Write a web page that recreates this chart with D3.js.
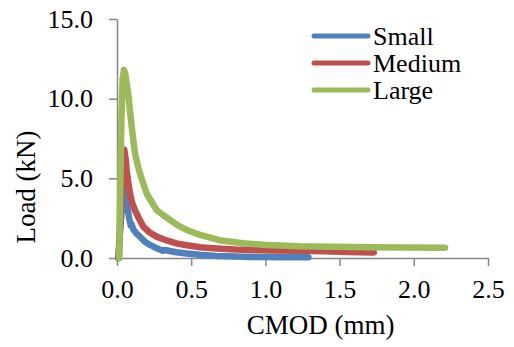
<!DOCTYPE html>
<html>
<head>
<meta charset="utf-8">
<script src="https://cdn.jsdelivr.net/npm/d3@7"></script>
<style>
  body { margin: 0; background: #fff; }
</style>
</head>
<body>
<div id="chart"></div>
<script>
// CMOD (mm) / Load (kN)
const seriesNames = ["Small", "Medium", "Large"];
const seriesColors = ["#4F81BD", "#C0504D", "#9BBB59"];

const smallX = [0.008, 0.02, 0.035, 0.047, 0.055, 0.065, 0.08, 0.092, 0.099, 0.11, 0.13, 0.155, 0.19, 0.222, 0.27, 0.31, 0.32, 0.4, 0.47, 0.56, 0.67, 0.8, 0.9, 1.0, 1.1, 1.2, 1.29];
const smallY = [0.0, 1.6, 3.4, 4.48, 4.0, 3.43, 2.6, 2.05, 2.1, 1.8, 1.55, 1.34, 1.0, 0.82, 0.6, 0.45, 0.5, 0.36, 0.28, 0.2, 0.13, 0.09, 0.07, 0.06, 0.05, 0.05, 0.05];

const mediumX = [0.012, 0.025, 0.038, 0.049, 0.057, 0.065, 0.075, 0.088, 0.1, 0.121, 0.15, 0.177, 0.22, 0.267, 0.335, 0.4, 0.47, 0.56, 0.67, 0.8, 0.9, 1.05, 1.23, 1.4, 1.55, 1.73];
const mediumY = [0.0, 2.8, 5.5, 6.8, 6.3, 5.5, 4.8, 4.05, 3.5, 3.0, 2.45, 1.97, 1.6, 1.34, 1.1, 0.92, 0.8, 0.68, 0.6, 0.53, 0.5, 0.47, 0.45, 0.42, 0.38, 0.35];

const largeX = [0.015, 0.022, 0.03, 0.038, 0.047, 0.055, 0.065, 0.076, 0.088, 0.099, 0.121, 0.14, 0.155, 0.18, 0.2, 0.235, 0.267, 0.31, 0.357, 0.41, 0.47, 0.56, 0.69, 0.85, 1.01, 1.23, 1.46, 1.7, 1.95, 2.21];
const largeY = [0.0, 4.5, 8.8, 11.2, 11.8, 11.6, 11.0, 10.3, 9.2, 8.24, 6.57, 5.8, 5.3, 4.6, 4.05, 3.5, 3.0, 2.7, 2.39, 2.05, 1.76, 1.45, 1.12, 0.92, 0.82, 0.73, 0.71, 0.68, 0.66, 0.64];

const xTicks = [0, 0.5, 1.0, 1.5, 2.0, 2.5];
const yTicks = [0, 5, 10, 15];

const seriesX = [smallX, mediumX, largeX];
const seriesY = [smallY, mediumY, largeY];

const width = 514, height = 347;
const margin = { top: 19, right: 26, bottom: 89, left: 117 };
const serif = "'Liberation Serif', 'Times New Roman', Times, serif";

const svg = d3.select("#chart").append("svg")
    .attr("width", width)
    .attr("height", height);

const x = d3.scaleLinear().domain([0, 2.5]).range([margin.left, width - margin.right]);
const y = d3.scaleLinear().domain([0, 15]).range([height - margin.bottom, margin.top]);

// y axis
const yAxis = svg.append("g")
    .attr("transform", "translate(" + margin.left + ",0)")
    .call(d3.axisLeft(y).tickValues(yTicks).tickFormat(d3.format(".1f")).tickSize(8).tickPadding(16).tickSizeOuter(0));

// x axis
const xAxis = svg.append("g")
    .attr("transform", "translate(0," + (height - margin.bottom) + ")")
    .call(d3.axisBottom(x).tickValues(xTicks).tickFormat(d3.format(".1f")).tickSize(8).tickPadding(14).tickSizeOuter(0));

[xAxis, yAxis].forEach(g => {
    g.attr("font-family", serif).attr("font-size", 26);
    g.select(".domain").attr("stroke", "#868686").attr("stroke-width", 1.5);
    g.selectAll(".tick line").attr("stroke", "#868686").attr("stroke-width", 1.5);
    g.selectAll(".tick text").attr("fill", "#000");
});

// lines
const line = d3.line()
    .x(d => x(d[0]))
    .y(d => y(d[1]));

seriesNames.forEach((name, i) => {
    const pts = seriesX[i].map((v, j) => [v, seriesY[i][j]]);
    svg.append("path")
        .datum(pts)
        .attr("fill", "none")
        .attr("stroke", seriesColors[i])
        .attr("stroke-width", 6.5)
        .attr("stroke-linejoin", "round")
        .attr("stroke-linecap", "round")
        .attr("d", line);
});

// axis titles
svg.append("text")
    .attr("x", (margin.left + width - margin.right) / 2 + 18)
    .attr("y", 334)
    .attr("text-anchor", "middle")
    .attr("font-family", serif)
    .attr("font-size", 27)
    .text("CMOD (mm)");

svg.append("text")
    .attr("transform", "translate(35,187) rotate(-90)")
    .attr("text-anchor", "middle")
    .attr("font-family", serif)
    .attr("font-size", 27)
    .text("Load (kN)");

// legend
const legend = svg.append("g");
seriesNames.forEach((name, i) => {
    const ly = 36 + i * 27;
    legend.append("line")
        .attr("x1", 314).attr("x2", 368)
        .attr("y1", ly).attr("y2", ly)
        .attr("stroke", seriesColors[i])
        .attr("stroke-width", 5)
        .attr("stroke-linecap", "round");
    legend.append("text")
        .attr("x", 373)
        .attr("y", ly)
        .attr("dy", "0.35em")
        .attr("font-family", serif)
        .attr("font-size", 26)
        .text(name);
});
</script>
</body>
</html>
